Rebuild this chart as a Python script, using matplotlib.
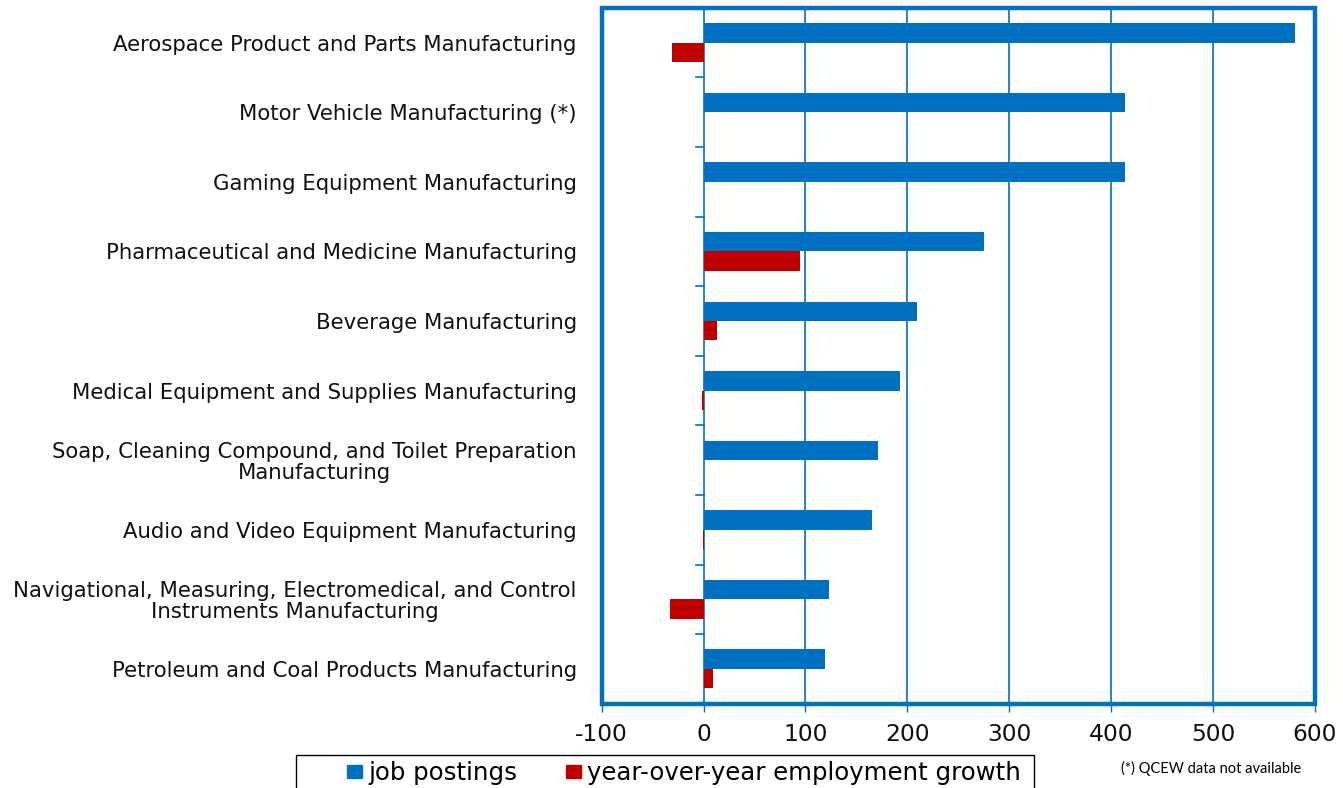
import matplotlib
matplotlib.use("Agg")
import matplotlib.pyplot as plt
import numpy as np
from matplotlib.patches import Rectangle

categories = [
    "Aerospace Product and Parts Manufacturing",
    "Motor Vehicle Manufacturing (*)",
    "Gaming Equipment Manufacturing",
    "Pharmaceutical and Medicine Manufacturing",
    "Beverage Manufacturing",
    "Medical Equipment and Supplies Manufacturing",
    "Soap, Cleaning Compound, and Toilet Preparation\nManufacturing",
    "Audio and Video Equipment Manufacturing",
    "Navigational, Measuring, Electromedical, and Control\nInstruments Manufacturing",
    "Petroleum and Coal Products Manufacturing",
]
job_postings = [581, 414, 414, 275, 210, 193, 171, 165, 123, 119]
emp_growth = [-31, np.nan, np.nan, 95, 13, -2, 0, -0.7, -33, 9]
xticks = [-100, 0, 100, 200, 300, 400, 500, 600]

blue = "#0070C0"
red = "#C00000"
font = ["DejaVu Sans"]

fig = plt.figure(figsize=(13.43, 7.88), dpi=100)
ax = fig.add_axes([0.448, 0.107, 0.531, 0.883])

n = len(categories)
y = np.arange(n)
h = 0.28
ax.barh(y - h / 2, job_postings, height=h, color=blue, zorder=3)
ax.barh(y + h / 2, emp_growth, height=h, color=red, zorder=3)

ax.set_xlim(-100, 600)
ax.set_ylim(n - 0.5, -0.5)
ax.set_xticks(xticks)
ax.set_xticklabels([str(t) for t in xticks], family=font, fontsize=16.8,
                   color="#111111")
ax.tick_params(axis="x", direction="out", length=6, color=blue, width=1, pad=8)
ax.grid(axis="x", color=blue, linewidth=1.2, zorder=1)

ax.set_yticks(y)
ax.set_yticklabels(categories, fontsize=15.3, family=font,
                   ha="center", multialignment="center", linespacing=1.04,
                   color="#111111")
ax.tick_params(axis="y", length=0, pad=18)
fig.canvas.draw()
# right-align label blocks while keeping centered lines
for lab in ax.get_yticklabels():
    lab.set_horizontalalignment("right")

# boundary ticks on the zero line
for b in np.arange(0.5, n - 0.5, 1):
    ax.plot([-7, 0], [b, b], color=blue, lw=1.2, zorder=2)

for s in ax.spines.values():
    s.set_visible(False)
ax.add_patch(Rectangle((0, 0), 1, 1, transform=ax.transAxes, fill=False,
                       edgecolor=blue, linewidth=3.2, clip_on=False, zorder=5))

# legend with a wide box like the original
fig.patches.append(Rectangle((296 / 1343, -0.01), 738 / 1343, 0.0519,
                             transform=fig.transFigure, fill=False,
                             edgecolor="black", linewidth=1))
handles = [Rectangle((0, 0), 1, 1, color=blue), Rectangle((0, 0), 1, 1, color=red)]
fig.legend(handles, ["job postings", "year-over-year employment growth"],
           loc="center left", bbox_to_anchor=(347 / 1343, 0.019), ncol=2,
           prop={"family": font, "size": 17.6}, frameon=False,
           handlelength=0.62, handleheight=0.46, handletextpad=0.25,
           columnspacing=2.0, borderpad=0, borderaxespad=0)

fig.text(1211 / 1343, 0.025, "(*) QCEW data not available", fontsize=10.5,
         family=["Lato", "DejaVu Sans"], ha="center", va="center")

fig.savefig("out.png", dpi=100)
